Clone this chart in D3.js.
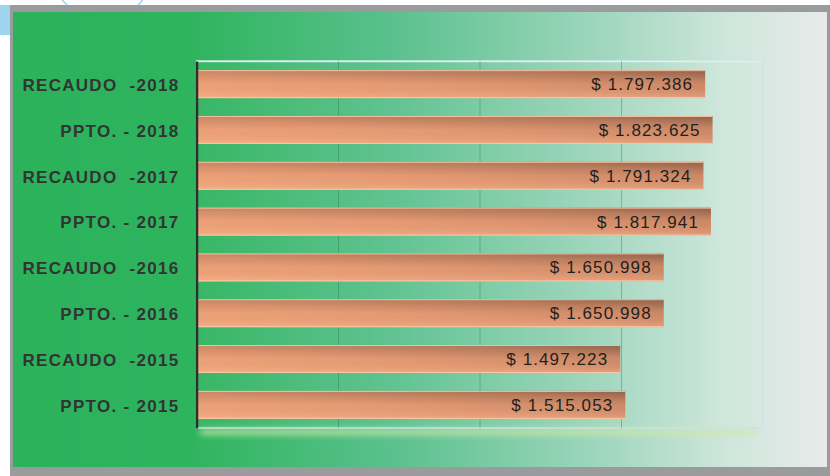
<!DOCTYPE html>
<html><head><meta charset="utf-8">
<script src="https://cdn.jsdelivr.net/npm/d3@7"></script>
<style>html,body{margin:0;padding:0;background:#fff;}svg{display:block;}</style>
</head><body>
<script>
const categories = ["RECAUDO  -2018","PPTO. - 2018","RECAUDO  -2017","PPTO. - 2017","RECAUDO  -2016","PPTO. - 2016","RECAUDO  -2015","PPTO. - 2015"];
const values = [1797386,1823625,1791324,1817941,1650998,1650998,1497223,1515053];
const gridTicks = [0,500000,1000000,1500000,2000000];

const W=830,H=476;
const svg=d3.select("body").append("svg").attr("width",W).attr("height",H);
const defs=svg.append("defs");

const bg=defs.append("linearGradient").attr("id","bg").attr("x1","0").attr("x2","1").attr("y1","0").attr("y2","0");
[[0,"#2bb25b"],[0.22,"#2fb45e"],[0.47,"#5bc18e"],[0.72,"#9fd6bd"],[0.88,"#cfe6dc"],[1,"#e8ebea"]].forEach(s=>bg.append("stop").attr("offset",s[0]).attr("stop-color",s[1]));

const bar=defs.append("linearGradient").attr("id","bar").attr("x1","0").attr("y1","1").attr("x2","1").attr("y2","0");
[[0,"#f6a97c"],[0.45,"#e59a73"],[0.8,"#c88665"],[1,"#a56e55"]].forEach(s=>bar.append("stop").attr("offset",s[0]).attr("stop-color",s[1]));
const barV=defs.append("linearGradient").attr("id","barV").attr("x1","0").attr("y1","0").attr("x2","0").attr("y2","1");
[[0,"#000",0.12],[0.5,"#000",0],[1,"#fff",0.08]].forEach(s=>barV.append("stop").attr("offset",s[0]).attr("stop-color",s[1]).attr("stop-opacity",s[2]));

const blur=defs.append("filter").attr("id","blur").attr("x","-10%").attr("y","-100%").attr("width","120%").attr("height","300%");
blur.append("feGaussianBlur").attr("stdDeviation",3);

// decorative pieces behind frame
svg.append("rect").attr("x",0).attr("y",5).attr("width",16).attr("height",30).attr("fill","#9fd4ee");
svg.append("circle").attr("cx",102.5).attr("cy",-30).attr("r",50).attr("fill","none").attr("stroke","#9fd4ee").attr("stroke-width",1.5);

// frame
svg.append("rect").attr("x",10).attr("y",5).attr("width",820).attr("height",471).attr("fill","#9a9b9d");
svg.append("rect").attr("x",13).attr("y",12).attr("width",814).attr("height",455).attr("fill","url(#bg)");

const m={l:196.5,r:762.5,t:61,b:428};
const x=d3.scaleLinear().domain([0,2000000]).range([m.l,m.r]);
const y=d3.scaleBand().domain(categories).range([m.t,m.b]).paddingInner(0.39).paddingOuter(0.2);

// plot area shadow + panel
svg.append("rect").attr("x",m.l+4).attr("y",m.b+1).attr("width",m.r-m.l-10).attr("height",6).attr("fill","#cfe9a8").attr("opacity",0.8).attr("filter","url(#blur)");
svg.append("rect").attr("x",m.l).attr("y",m.t).attr("width",m.r-m.l).attr("height",m.b-m.t).attr("fill","#ffffff").attr("fill-opacity",0.04).attr("stroke","#c8e2e6").attr("stroke-width",1.5);
svg.append("line").attr("x1",m.l).attr("x2",m.r).attr("y1",m.t+0.5).attr("y2",m.t+0.5).attr("stroke","#e6f6ee").attr("stroke-width",1.5).attr("opacity",0.8);

// grid via axis
const grid=svg.append("g").attr("transform",`translate(0,${m.b})`)
  .call(d3.axisBottom(x).tickValues(gridTicks.slice(1,-1)).tickSize(-(m.b-m.t)).tickFormat(""));
grid.select(".domain").remove();
grid.selectAll(".tick line").attr("stroke","#1f6e48").attr("stroke-opacity",0.35).attr("stroke-width",1);

// bars
const g=svg.append("g");
g.selectAll("rect.b").data(values).join("rect").attr("class","b")
  .attr("x",x(0)).attr("y",(d,i)=>y(categories[i])).attr("width",d=>x(d)-x(0)).attr("height",y.bandwidth())
  .attr("fill","url(#bar)");
g.selectAll("rect.v").data(values).join("rect").attr("class","v")
  .attr("x",x(0)).attr("y",(d,i)=>y(categories[i])).attr("width",d=>x(d)-x(0)).attr("height",y.bandwidth())
  .attr("fill","url(#barV)");
g.selectAll("line.hl").data(values).join("line").attr("class","hl")
  .attr("x1",x(0)).attr("x2",d=>x(d)).attr("y1",(d,i)=>y(categories[i])+0.5).attr("y2",(d,i)=>y(categories[i])+0.5)
  .attr("stroke","#f3c3a2").attr("stroke-width",1);
g.selectAll("line.bl").data(values).join("line").attr("class","bl")
  .attr("x1",x(0)).attr("x2",d=>x(d)).attr("y1",(d,i)=>y(categories[i])+y.bandwidth()-0.5).attr("y2",(d,i)=>y(categories[i])+y.bandwidth()-0.5)
  .attr("stroke","#f8c9a8").attr("stroke-width",1);

const fmt=v=>"$ "+d3.format(",")(v).replace(/,/g,".");
g.selectAll("text.val").data(values).join("text").attr("class","val")
  .attr("x",d=>x(d)-12).attr("y",(d,i)=>y(categories[i])+y.bandwidth()/2+6)
  .attr("text-anchor","end").attr("font-family","Liberation Sans, Arial, sans-serif").attr("font-size",17)
  .attr("letter-spacing",1.1).attr("fill","#1f1f1f").text(fmt);

// y axis
const ya=svg.append("g").attr("transform",`translate(${m.l},0)`).call(d3.axisLeft(y).tickSize(0).tickPadding(17));
ya.select(".domain").attr("stroke","#2e2e2e").attr("stroke-width",2.5);
ya.selectAll("text").attr("font-family","Liberation Sans, Arial, sans-serif").attr("font-size",17).attr("font-weight","bold")
  .attr("fill","#333").attr("letter-spacing",1.3).attr("dy","0.4em").style("white-space","pre");
</script>
</body></html>
